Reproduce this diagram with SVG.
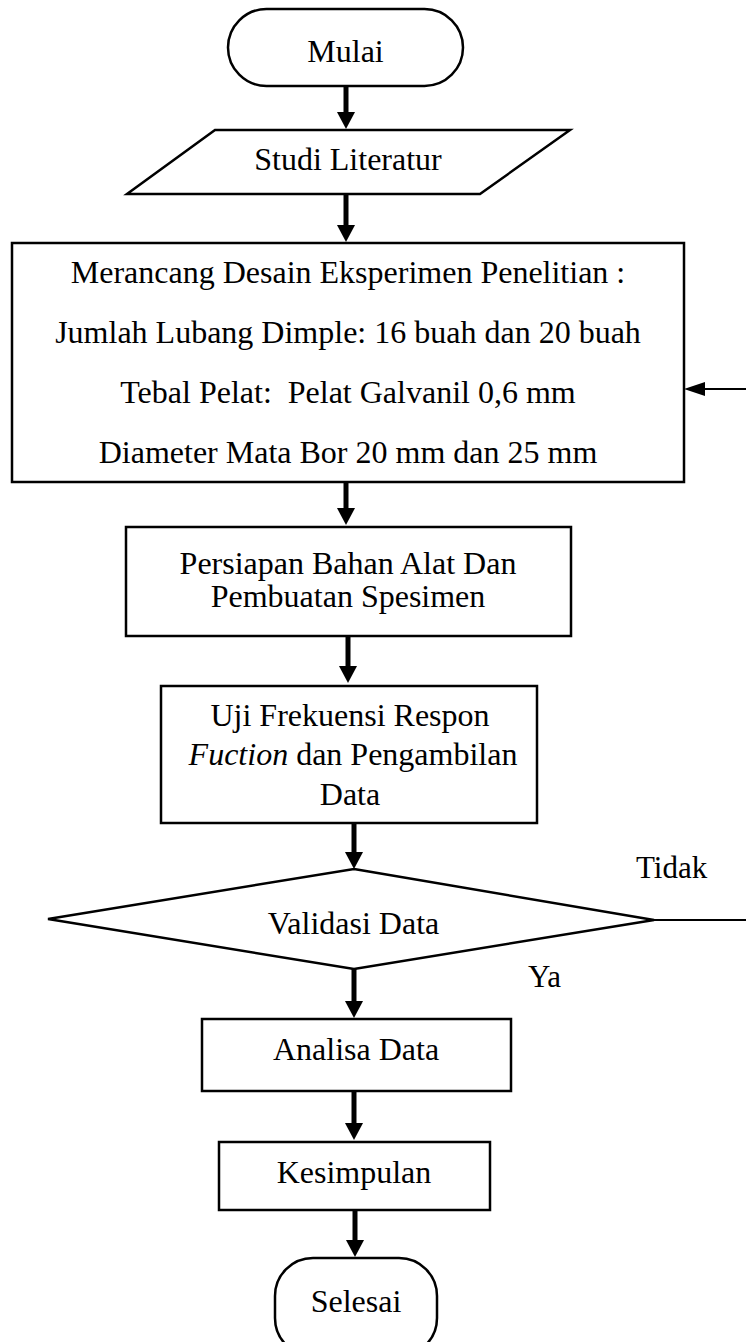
<svg xmlns="http://www.w3.org/2000/svg" width="746" height="1342" viewBox="0 0 746 1342">
<style>
.s{fill:#fff;stroke:#000;stroke-width:2.5}
.t{font-family:"Liberation Serif","Times New Roman",serif;font-size:32px;fill:#000;text-anchor:middle}
.lbl{font-family:"Liberation Serif","Times New Roman",serif;font-size:31px;fill:#000}
.a{stroke:#000;stroke-width:5;fill:none}
.th{stroke:#000;stroke-width:2;fill:none}
</style>
<defs>
<marker id="ah" markerUnits="userSpaceOnUse" markerWidth="17" markerHeight="18" refX="4" refY="9" orient="auto">
<path d="M0,0 L17,9 L0,18 z" fill="#000"/>
</marker>
<marker id="ah2" markerUnits="userSpaceOnUse" markerWidth="21" markerHeight="14" refX="10" refY="7" orient="auto">
<path d="M0,0 L21,7 L0,14 z" fill="#000"/>
</marker>
</defs>
<g id="connectors">
<line class="a" x1="346" y1="86" x2="346" y2="116" marker-end="url(#ah)"/>
<line class="a" x1="346" y1="194" x2="346" y2="229" marker-end="url(#ah)"/>
<line class="a" x1="346" y1="482" x2="346" y2="512" marker-end="url(#ah)"/>
<line class="a" x1="348" y1="636" x2="348" y2="670" marker-end="url(#ah)"/>
<line class="a" x1="354" y1="823" x2="354" y2="856" marker-end="url(#ah)"/>
<line class="a" x1="354" y1="969" x2="354" y2="1005" marker-end="url(#ah)"/>
<line class="a" x1="354" y1="1091" x2="354" y2="1127" marker-end="url(#ah)"/>
<line class="a" x1="355" y1="1210" x2="355" y2="1244" marker-end="url(#ah)"/>
<line class="th" x1="654" y1="920" x2="746" y2="920"/>
<line class="th" x1="746" y1="389" x2="695" y2="389" marker-end="url(#ah2)"/>
<text class="lbl" x="636" y="878">Tidak</text>
<text class="lbl" x="528" y="987">Ya</text>
</g>
<g id="mulai">
<rect class="s" x="228" y="9" width="235" height="77" rx="38.5"/>
<text class="t" x="345.5" y="62">Mulai</text>
</g>
<g id="studi">
<polygon class="s" points="215,130 570,130 480,194 127,194"/>
<text class="t" x="348" y="170">Studi Literatur</text>
</g>
<g id="desain">
<rect class="s" x="12" y="243" width="672" height="239"/>
<text class="t" x="348" y="283">Merancang Desain Eksperimen Penelitian :</text>
<text class="t" x="348" y="343">Jumlah Lubang Dimple: 16 buah dan 20 buah</text>
<text class="t" x="348" y="403" style="white-space:pre">Tebal Pelat:  Pelat Galvanil 0,6 mm</text>
<text class="t" x="348" y="463">Diameter Mata Bor 20 mm dan 25 mm</text>
</g>
<g id="persiapan">
<rect class="s" x="126" y="527" width="445" height="109"/>
<text class="t" x="348" y="574">Persiapan Bahan Alat Dan</text>
<text class="t" x="348" y="607">Pembuatan Spesimen</text>
</g>
<g id="uji">
<rect class="s" x="161" y="686" width="376" height="137"/>
<text class="t" x="350" y="726">Uji Frekuensi Respon</text>
<text class="t" x="353" y="765"><tspan font-style="italic">Fuction</tspan> dan Pengambilan</text>
<text class="t" x="350" y="805">Data</text>
</g>
<g id="validasi">
<polygon class="s" points="354,869 654,920 354,969 48,919"/>
<text class="t" x="353.5" y="934">Validasi Data</text>
</g>
<g id="analisa">
<rect class="s" x="202" y="1019" width="309" height="72"/>
<text class="t" x="356" y="1060">Analisa Data</text>
</g>
<g id="kesimpulan">
<rect class="s" x="219" y="1142" width="271" height="68"/>
<text class="t" x="354" y="1183">Kesimpulan</text>
</g>
<g id="selesai">
<rect class="s" x="275" y="1258" width="162" height="98" rx="38"/>
<text class="t" x="356" y="1312">Selesai</text>
</g>
</svg>
